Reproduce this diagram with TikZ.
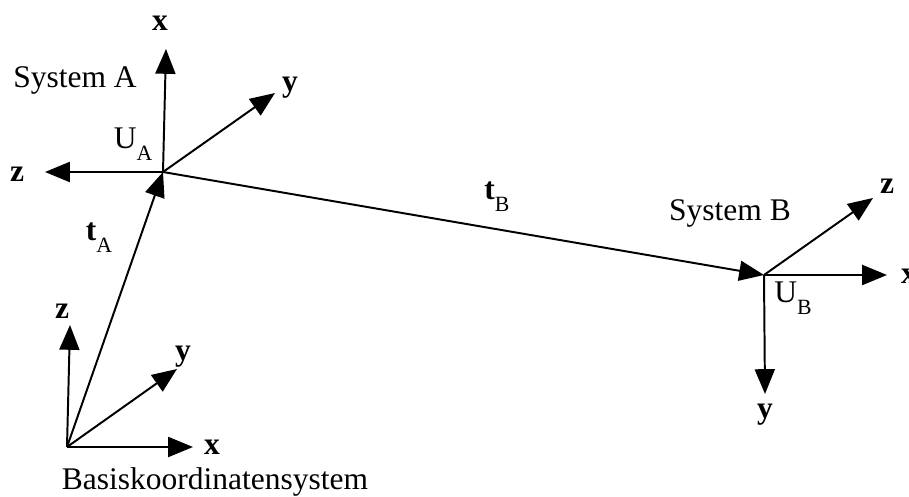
\documentclass[tikz,border=0pt]{standalone}
\usepackage{fontspec}
\setmainfont{Liberation Serif}
\usetikzlibrary{arrows.meta}

\newcommand{\lowidx}[1]{\raisebox{-0.38em}{\fontsize{15.5}{15.5}\selectfont #1}}

\begin{document}
\begin{tikzpicture}[
  x=0.025cm, y=-0.025cm,
  >={Triangle[length=0.62cm, width=0.5cm]},
  vec/.style={->, line width=1.4pt},
  lbl/.style={inner sep=0pt, font=\fontsize{22.4}{26}\selectfont},
  axlbl/.style={lbl, font=\fontsize{22.4}{26}\selectfont\bfseries}
]
\useasboundingbox (0,0) rectangle (909,497);

% origins
\coordinate (O) at (67,447);
\coordinate (UA) at (163,172);
\coordinate (UB) at (764,275);

% Basiskoordinatensystem
\coordinate (Ox) at (193,447);
\coordinate (Oy) at (177,369);
\coordinate (Oz) at (70,325);
\node[axlbl] (ox) at (212,447) {x};
\node[axlbl] (oy) at (183,357) {y};
\node[axlbl] (oz) at (62,311) {z};
\node[lbl] (base) at (215,482) {Basiskoordinatensystem};

\draw[vec] (O) -- (Ox);
\draw[vec] (O) -- (Oy);
\draw[vec] (O) -- (Oz);

% System A
\coordinate (Ax) at (166,49);
\coordinate (Ay) at (275,93);
\coordinate (Az) at (45,172);
\node[axlbl] (ax) at (160,23) {x};
\node[axlbl] (ay) at (290,88) {y};
\node[axlbl] (az) at (17,174) {z};
\node[lbl] (sysA) at (75,80) {System A};
\node[lbl] (uA) at (133,144) {U\lowidx{A}};

\draw[vec] (UA) -- (Ax);
\draw[vec] (UA) -- (Ay);
\draw[vec] (UA) -- (Az);

% System B
\coordinate (Bx) at (887,275);
\coordinate (By) at (765,394);
\coordinate (Bz) at (873,198);
\node[axlbl] (bx) at (909,276) {x};
\node[axlbl] (by) at (765,415) {y};
\node[axlbl] (bz) at (887,186) {z};
\node[lbl] (sysB) at (730,213) {System B};
\node[lbl] (uB) at (793,298) {U\lowidx{B}};

\draw[vec] (UB) -- (Bx);
\draw[vec] (UB) -- (By);
\draw[vec] (UB) -- (Bz);

% translations
\node[lbl] (tA) at (99,238) {\textbf{t}\lowidx{A}};
\node[lbl] (tB) at (497,197) {\textbf{t}\lowidx{B}};

\draw[vec] (O) -- (UA);
\draw[vec] (UA) -- (UB);

\end{tikzpicture}
\end{document}
